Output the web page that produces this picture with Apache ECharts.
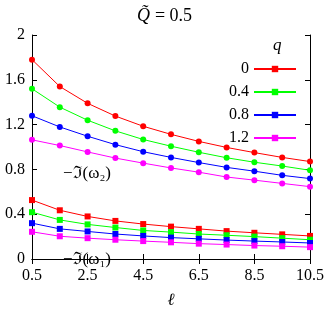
<!DOCTYPE html>
<html><head><meta charset="utf-8">
<script src="https://cdn.jsdelivr.net/npm/echarts@6/dist/echarts.min.js"></script>
<style>html,body{margin:0;padding:0;background:#fff}#c{width:329px;height:314px}</style>
</head><body><div id="c"></div>
<script>
const ell = [0.5,1.5,2.5,3.5,4.5,5.5,6.5,7.5,8.5,9.5,10.5];
const qLabels = ['0','0.4','0.8','1.2'];
const colors = ['#ff0000','#00ff00','#0000ff','#ff00ff'];
const xTicks = [0.5,2.5,4.5,6.5,8.5,10.5];
const yTicks = [0,0.4,0.8,1.2,1.6,2];
// -Im(omega_2)
const w2_q0  = [1.78,1.54,1.39,1.276,1.185,1.113,1.05,0.996,0.95,0.907,0.87];
const w2_q04 = [1.52,1.356,1.239,1.144,1.067,1.007,0.953,0.904,0.864,0.83,0.792];
const w2_q08 = [1.279,1.179,1.096,1.021,0.958,0.907,0.861,0.818,0.784,0.747,0.718];
const w2_q12 = [1.064,1.013,0.956,0.901,0.856,0.813,0.775,0.732,0.704,0.675,0.646];
// -Im(omega_1)
const w1_q0  = [0.526,0.435,0.38,0.34,0.312,0.289,0.269,0.249,0.234,0.22,0.206];
const w1_q04 = [0.418,0.349,0.309,0.281,0.255,0.24,0.223,0.212,0.2,0.186,0.172];
const w1_q08 = [0.32,0.269,0.246,0.223,0.206,0.191,0.18,0.169,0.16,0.152,0.143];
const w1_q12 = [0.243,0.203,0.186,0.172,0.16,0.149,0.137,0.129,0.12,0.114,0.106];

const w1 = [w1_q0,w1_q04,w1_q08,w1_q12];
const w2 = [w2_q0,w2_q04,w2_q08,w2_q12];
const font = 'Liberation Serif';
const pair = (arr) => ell.map((x,i)=>[x,arr[i]]);
const series = [];
w1.forEach((arr,k)=>series.push({name:qLabels[k],type:'line',data:pair(arr),symbol:'rect',symbolSize:6,
  lineStyle:{width:1,color:colors[k]},itemStyle:{color:colors[k]},animation:false}));
w2.forEach((arr,k)=>series.push({name:qLabels[k],type:'line',data:pair(arr),symbol:'circle',symbolSize:6,
  lineStyle:{width:1,color:colors[k]},itemStyle:{color:colors[k]},animation:false}));

const chart = echarts.init(document.getElementById('c'));
const axisBase = {type:'value',axisLine:{show:true,lineStyle:{color:'#000',width:1}},splitLine:{show:false},
  axisTick:{inside:true,length:5,lineStyle:{color:'#000'}}};
chart.setOption({
  animation:false,
  title:{text:'{i|Q\u0303} {n|= 0.5}',left:'center',top:2,
    textStyle:{fontWeight:'normal',rich:{i:{fontFamily:font,fontStyle:'italic',fontWeight:'normal',fontSize:18,color:'#000'},n:{fontFamily:font,fontWeight:'normal',fontSize:18,color:'#000'}}}},
  grid:{left:32,right:19,top:35,bottom:46},
  xAxis:[
    Object.assign({},axisBase,{min:0.5,max:10.5,position:'bottom',
      axisTick:{inside:true,length:5,lineStyle:{color:'#000'},customValues:xTicks},
      axisLabel:{customValues:xTicks,fontFamily:font,fontSize:16,color:'#000',margin:9},
      name:'\u2113',nameLocation:'middle',nameGap:33,nameTextStyle:{fontFamily:font,fontStyle:'italic',fontSize:17,color:'#000'}}),
    Object.assign({},axisBase,{min:0.5,max:10.5,position:'top',
      axisTick:{inside:true,length:5,lineStyle:{color:'#000'},customValues:xTicks},axisLabel:{show:false}})
  ],
  yAxis:[
    Object.assign({},axisBase,{min:0,max:2,interval:0.4,position:'left',
      axisLabel:{fontFamily:font,fontSize:16,color:'#000',margin:7,formatter:v=>String(Math.round(v*10)/10)}}),
    Object.assign({},axisBase,{min:0,max:2,interval:0.4,position:'right',axisLabel:{show:false}})
  ],
  legend:{orient:'vertical',align:'right',right:27,top:56,itemWidth:42,itemHeight:8,itemGap:7,
    data:qLabels,textStyle:{fontFamily:font,fontSize:16,color:'#000'}},
  graphic:[
    {type:'text',z:100,left:273,top:37,style:{text:'q',font:'italic 17px "Liberation Serif"',fill:'#000'}},
    {type:'text',z:100,x:63,y:165,style:{text:'\u2212\u2111(\u03C9\u2082)',font:'17px "Liberation Serif"',fill:'#000'}},
    {type:'text',z:100,x:63,y:251,style:{text:'\u2212\u2111(\u03C9\u2081)',font:'17px "Liberation Serif"',fill:'#000'}}
  ],
  series:series
});
</script></body></html>
